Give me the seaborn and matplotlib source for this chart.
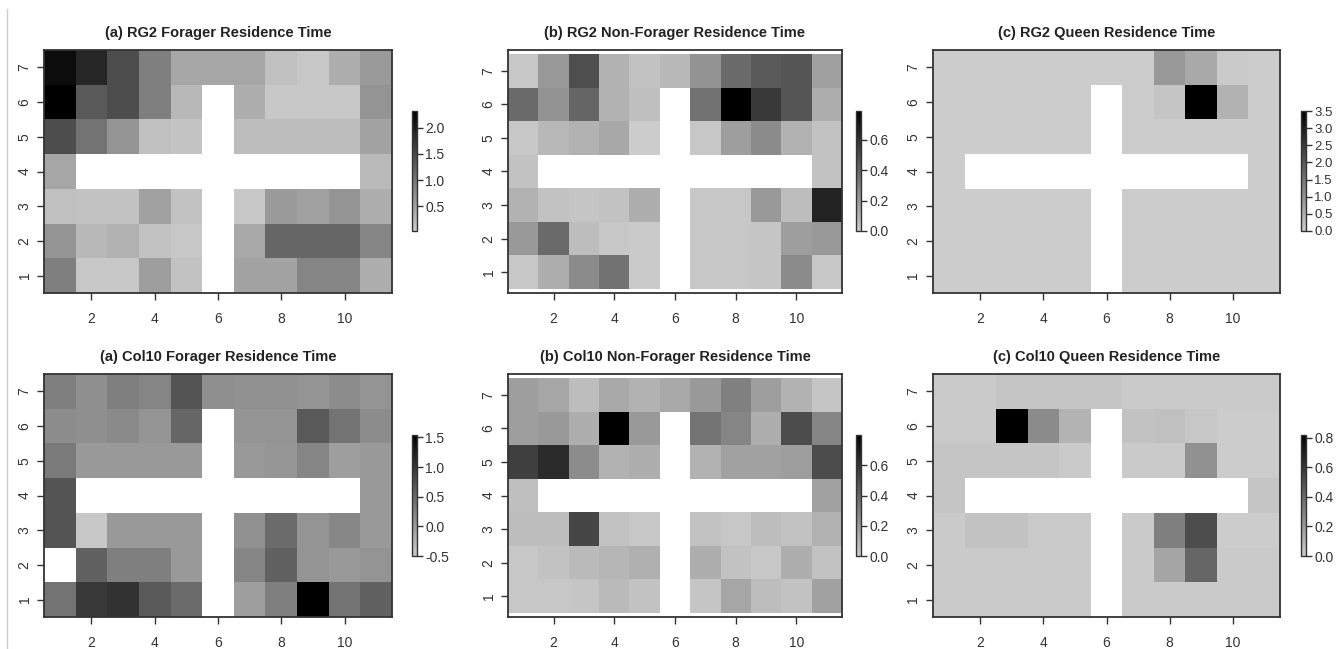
import numpy as np
import pandas as pd
import matplotlib
matplotlib.use("Agg")
import matplotlib.pyplot as plt
import seaborn as sns
from matplotlib.colors import LinearSegmentedColormap
from matplotlib.lines import Line2D

# grid: 11 columns x 7 rows, rows listed from top (7) to bottom (1)
cols = list(range(1, 12))
rows = [7, 6, 5, 4, 3, 2, 1]
nan = np.nan

rg2_forager = [
    [2.18, 1.89, 1.46, 0.89, 0.46, 0.46, 0.46, 0.17, 0.09, 0.37, 0.60],
    [2.32, 1.32, 1.46, 0.89, 0.26, nan, 0.37, 0.09, 0.09, 0.09, 0.66],
    [1.46, 1.03, 0.66, 0.17, 0.12, nan, 0.20, 0.20, 0.20, 0.20, 0.49],
    [0.46, nan, nan, nan, nan, nan, nan, nan, nan, nan, 0.23],
    [0.17, 0.14, 0.14, 0.52, 0.14, nan, 0.09, 0.60, 0.52, 0.66, 0.37],
    [0.66, 0.26, 0.34, 0.14, 0.09, nan, 0.43, 1.17, 1.17, 1.17, 0.83],
    [0.89, 0.09, 0.09, 0.55, 0.14, nan, 0.49, 0.49, 0.83, 0.83, 0.37],
]
rg2_nonforager = [
    [0.02, 0.20, 0.49, 0.10, 0.04, 0.08, 0.22, 0.38, 0.44, 0.46, 0.17],
    [0.38, 0.22, 0.40, 0.10, 0.05, nan, 0.35, 0.79, 0.57, 0.46, 0.12],
    [0.02, 0.08, 0.10, 0.14, 0.00, nan, 0.02, 0.18, 0.25, 0.10, 0.04],
    [0.04, nan, nan, nan, nan, nan, nan, nan, nan, nan, 0.04],
    [0.10, 0.04, 0.03, 0.04, 0.12, nan, 0.02, 0.02, 0.20, 0.06, 0.66],
    [0.20, 0.38, 0.06, 0.02, 0.01, nan, 0.02, 0.02, 0.03, 0.18, 0.20],
    [0.02, 0.12, 0.25, 0.35, 0.01, nan, 0.02, 0.02, 0.03, 0.25, 0.02],
]
rg2_queen = [
    [0.0, 0.0, 0.0, 0.0, 0.0, 0.0, 0.0, 0.88, 0.61, 0.05, 0.0],
    [0.0, 0.0, 0.0, 0.0, 0.0, nan, 0.0, 0.13, 3.5, 0.44, 0.0],
    [0.0, 0.0, 0.0, 0.0, 0.0, nan, 0.0, 0.0, 0.0, 0.0, 0.0],
    [0.0, nan, nan, nan, nan, nan, nan, nan, nan, nan, 0.0],
    [0.0, 0.0, 0.0, 0.0, 0.0, nan, 0.0, 0.0, 0.0, 0.0, 0.0],
    [0.0, 0.0, 0.0, 0.0, 0.0, nan, 0.0, 0.0, 0.0, 0.0, 0.0],
    [0.0, 0.0, 0.0, 0.0, 0.0, nan, 0.0, 0.0, 0.0, 0.0, 0.0],
]
col10_forager = [
    [0.27, 0.11, 0.27, 0.21, 0.70, 0.11, 0.09, 0.09, 0.06, 0.14, 0.06],
    [0.14, 0.11, 0.16, 0.06, 0.52, nan, 0.06, 0.06, 0.65, 0.39, 0.14],
    [0.32, 0.01, 0.01, 0.01, 0.01, nan, 0.01, 0.04, 0.21, -0.04, 0.01],
    [0.70, nan, nan, nan, nan, nan, nan, nan, nan, nan, 0.01],
    [0.70, -0.45, 0.01, 0.01, 0.01, nan, 0.09, 0.47, 0.06, 0.19, 0.01],
    [nan, 0.57, 0.27, 0.27, 0.01, nan, 0.21, 0.57, 0.06, 0.01, 0.06],
    [0.39, 0.98, 1.03, 0.65, 0.47, nan, -0.04, 0.27, 1.54, 0.39, 0.57],
]
col10_nonforager = [
    [0.18, 0.15, 0.06, 0.14, 0.10, 0.14, 0.20, 0.30, 0.18, 0.10, 0.03],
    [0.18, 0.20, 0.12, 0.80, 0.20, nan, 0.35, 0.28, 0.12, 0.50, 0.28],
    [0.55, 0.63, 0.25, 0.10, 0.12, nan, 0.10, 0.17, 0.17, 0.18, 0.50],
    [0.05, nan, nan, nan, nan, nan, nan, nan, nan, nan, 0.17],
    [0.06, 0.06, 0.53, 0.04, 0.02, nan, 0.04, 0.02, 0.06, 0.04, 0.10],
    [0.02, 0.04, 0.07, 0.09, 0.11, nan, 0.12, 0.04, 0.02, 0.12, 0.04],
    [0.02, 0.02, 0.03, 0.07, 0.04, nan, 0.03, 0.15, 0.06, 0.04, 0.17],
]
col10_queen = [
    [0.01, 0.01, 0.03, 0.03, 0.03, 0.03, 0.01, 0.01, 0.01, 0.01, 0.01],
    [0.01, 0.01, 0.82, 0.26, 0.10, nan, 0.04, 0.05, 0.02, 0.0, 0.0],
    [0.03, 0.03, 0.03, 0.03, 0.01, nan, 0.01, 0.01, 0.24, 0.0, 0.0],
    [0.03, nan, nan, nan, nan, nan, nan, nan, nan, nan, 0.03],
    [0.01, 0.04, 0.04, 0.01, 0.01, nan, 0.01, 0.31, 0.51, 0.0, 0.0],
    [0.01, 0.01, 0.01, 0.01, 0.01, nan, 0.01, 0.16, 0.41, 0.01, 0.01],
    [0.01, 0.01, 0.01, 0.01, 0.01, nan, 0.01, 0.01, 0.01, 0.01, 0.01],
]

panels = [rg2_forager, rg2_nonforager, rg2_queen,
          col10_forager, col10_nonforager, col10_queen]
titles = ["(a) RG2 Forager Residence Time",
          "(b) RG2 Non-Forager Residence Time",
          "(c) RG2 Queen Residence Time",
          "(a) Col10 Forager Residence Time",
          "(b) Col10 Non-Forager Residence Time",
          "(c) Col10 Queen Residence Time"]
vlims = [(0.03, 2.32), (0.0, 0.79), (0.0, 3.5),
         (-0.5, 1.54), (0.0, 0.8), (0.0, 0.82)]
cbar_ticks = [[0.5, 1.0, 1.5, 2.0],
              [0.0, 0.2, 0.4, 0.6],
              [0.0, 0.5, 1.0, 1.5, 2.0, 2.5, 3.0, 3.5],
              [-0.5, 0.0, 0.5, 1.0, 1.5],
              [0.0, 0.2, 0.4, 0.6],
              [0.0, 0.2, 0.4, 0.6, 0.8]]
xtick_vals = [2, 4, 6, 8, 10]

sns.set_style("white")
plt.rcParams['font.family'] = ['Liberation Sans', 'DejaVu Sans']

W, H = 1344, 649
fig = plt.figure(figsize=(W / 100, H / 100), dpi=100)

cmap = LinearSegmentedColormap.from_list("r_gray", ["#cccccc", "#000000"])

# pixel boxes (left, right) per column, (top, bottom) per row
ax_x = [(44, 392), (508, 842), (933, 1280)]
ax_y = [(50, 293), (374, 617)]
cb_x = [(412, 417), (856, 861), (1301, 1306)]
cb_y = [(111, 231), (435, 556)]


def box(x0, x1, y0, y1):
    return [x0 / W, 1 - y1 / H, (x1 - x0) / W, (y1 - y0) / H]


for k, data in enumerate(panels):
    r, c = divmod(k, 3)
    ax = fig.add_axes(box(*ax_x[c], *ax_y[r]))
    cax = fig.add_axes(box(*cb_x[c], *cb_y[r]))
    df = pd.DataFrame(data, index=rows, columns=cols)
    vmin, vmax = vlims[k]
    sns.heatmap(df, ax=ax, cbar_ax=cax, cmap=cmap, vmin=vmin, vmax=vmax,
                linewidths=0)

    ax.set_xticks([cols.index(v) + 0.5 for v in xtick_vals])
    ax.set_xticklabels([str(v) for v in xtick_vals], rotation=0)
    ax.set_yticks([rows.index(v) + 0.5 for v in rows])
    ax.set_yticklabels([str(v) for v in rows], rotation=90, va="center")
    ax.set_xlabel("")
    ax.set_ylabel("")
    if c == 1:
        ax.set_ylim(len(rows) + 0.12, -0.12)
    for s in ax.spines.values():
        s.set_visible(True)
        s.set_color("#333333")
        s.set_linewidth(1.3)
    ax.tick_params(axis="both", direction="out", length=5, width=1,
                   color="#333333", labelsize=10, labelcolor="#333333",
                   left=True, bottom=True)
    ax.tick_params(axis="x", pad=9)
    ax.tick_params(axis="y", pad=4)
    ax.set_title(titles[k], fontsize=10.5, fontweight="bold",
                 color="#222222", pad=9)

    cbar = ax.collections[0].colorbar
    cbar.set_ticks(cbar_ticks[k])
    cbar.set_ticklabels([f"{t:.1f}" for t in cbar_ticks[k]])
    cbar.outline.set_edgecolor("#333333")
    cbar.outline.set_linewidth(1)
    cbar.outline.set_visible(True)
    cax.tick_params(axis="y", right=True, direction="out", length=4,
                    width=1, color="#333333", labelcolor="#333333",
                    labelsize=10 if k != 2 else 9.5, pad=2)

# thin grey rule on the left edge of the picture
fig.add_artist(Line2D([7 / W, 7 / W], [0, 1 - 9 / H], color="#cccccc",
                      lw=1, transform=fig.transFigure))

fig.savefig("out.png", dpi=100)
